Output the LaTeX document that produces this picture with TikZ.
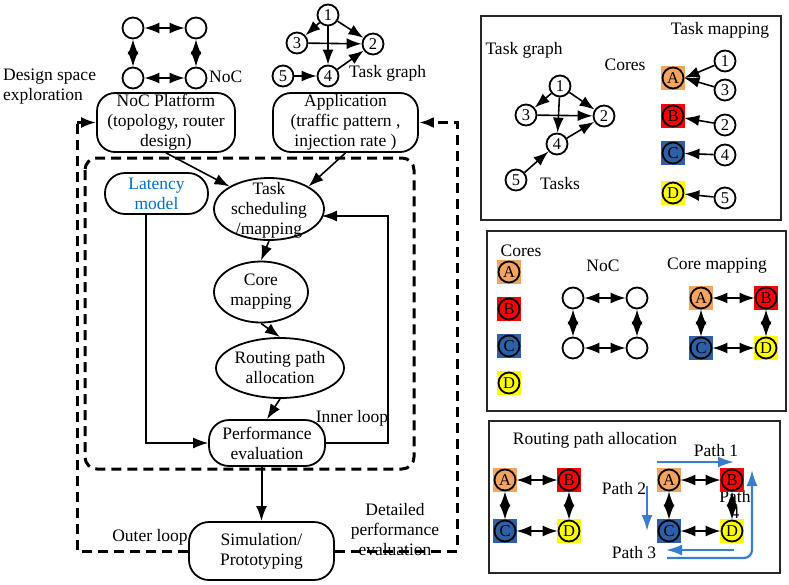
\documentclass[tikz,border=0pt]{standalone}
\usepackage{fontspec}
\setmainfont{Liberation Serif}
\usetikzlibrary{arrows.meta,shapes.geometric}
\definecolor{corA}{RGB}{244,164,96}
\definecolor{corB}{RGB}{255,0,0}
\definecolor{corC}{RGB}{46,96,168}
\definecolor{corD}{RGB}{255,255,0}
\definecolor{pathblue}{RGB}{58,125,205}
\definecolor{latblue}{RGB}{0,112,192}
\newcommand{\mkcore}[4]{\node[sq,fill=#4] (#1s) at #2 {};\node[tc,fill=#4] (#1) at #2 {#3};}
\begin{document}
\begin{tikzpicture}[x=1pt,y=-1pt,
  font=\fontsize{17.5}{20}\selectfont,
  tc/.style={circle,draw,line width=1.8pt,minimum size=21pt,inner sep=0pt,font=\fontsize{16.5}{16}\selectfont},
  sq/.style={rectangle,minimum size=24pt,inner sep=0pt},
  conn/.style={line width=1.6pt},
  arr/.style={-{Latex[length=15pt,width=11pt]}},
  darr/.style={{Latex[length=15pt,width=11pt]}-{Latex[length=15pt,width=11pt]}},
  rbox/.style={draw,rounded corners=18pt,line width=1.8pt,inner sep=0pt,align=center},
  ell/.style={draw,ellipse,line width=1.8pt,inner sep=0pt},
  lbl/.style={align=center,inner sep=0pt},
  bigdash/.style={line width=3pt,dash pattern=on 10pt off 6pt},
  bluearr/.style={draw=pathblue,line width=2.2pt,-{Latex[length=16pt,width=11pt]},color=pathblue},
  frame/.style={line width=1.4pt,draw=black!85}
]
\useasboundingbox (0,0) rectangle (789,584);

% ---------------- top NoC
\node[tc] (n1) at (133,28) {};
\node[tc] (n2) at (196,28) {};
\node[tc] (n3) at (133,78) {};
\node[tc] (n4) at (196,78) {};
\draw[conn,darr] (n1) -- (n2);
\draw[conn,darr] (n3) -- (n4);
\draw[conn,darr] (n1) -- (n3);
\draw[conn,darr] (n2) -- (n4);
\node[lbl,anchor=west] (noclbl) at (209,77) {NoC};

% ---------------- top task graph
\node[tc] (t1) at (328,15) {1};
\node[tc] (t3) at (297,43) {3};
\node[tc] (t2) at (373,44) {2};
\node[tc] (t4) at (328,76) {4};
\node[tc] (t5) at (283,76) {5};
\draw[conn,arr] (t1) -- (t3);
\draw[conn,arr] (t1) -- (t2);
\draw[conn,arr] (t1) -- (t4);
\draw[conn,arr] (t3) -- (t2);
\draw[conn,arr] (t5) -- (t4);
\draw[conn,arr] (t4) -- (t2);
\node[lbl,anchor=west] (tglbl) at (349,73) {Task graph};

\node[lbl,align=left,anchor=west] (dse) at (3,87) {Design space\\exploration};

% ---------------- boxes
\node[rbox,minimum width=138pt,minimum height=59pt] (noc) at (166,122.5) {NoC Platform\\(topology, router\\design)};
\node[rbox,minimum width=145pt,minimum height=59pt] (app) at (345.5,122.5) {Application\\(traffic pattern ,\\injection rate )};

\draw[bigdash,rounded corners=12pt] (85,158) rectangle (414,469);

\node[rbox,rounded corners=20pt,minimum width=103pt,minimum height=41pt,text=latblue] (lat) at (156.5,193.5) {Latency\\model};

\node[ell,minimum width=110pt,minimum height=62pt] (ts) at (269,209) {};
\node[lbl] (tstxt) at (269,210) {Task\\scheduling\\/mapping};
\node[ell,minimum width=94pt,minimum height=61pt] (cm) at (261,292) {};
\node[lbl] (cmtxt) at (261,292) {Core\\mapping};
\node[ell,minimum width=128pt,minimum height=60pt] (rp) at (280,368) {};
\node[lbl] (rptxt) at (280,368) {Routing path\\allocation};
\node[rbox,rounded corners=20pt,minimum width=116pt,minimum height=46pt] (pe) at (267,443) {Performance\\evaluation};
\node[rbox,rounded corners=20pt,minimum width=145pt,minimum height=58pt] (sim) at (261.5,551) {Simulation/\\Prototyping};

% arrows
\draw[conn,arr] (noc.south) -- (ts.north west);
\draw[conn,arr] (app.south) -- (ts.north east);
\draw[conn,arr] (ts.south) -- (cm.north);
\draw[conn,arr] (cm.south) -- (rp.north);
\draw[conn,arr] (rp.south) -- (pe.north);
\coordinate (latb) at (146,214);
\draw[line width=1.2pt,arr] (latb) |- (pe.west);
\coordinate (il1) at (388,443);
\coordinate (il2) at (388,216);
\coordinate (tsin) at (322,216);
\draw[line width=1.2pt,arr] (pe.east) -- (il1) -- (il2) -- (tsin);
\draw[line width=2pt,arr] (pe.south -| sim.north) -- (sim.north);

\node[lbl] (inner) at (352,418) {Inner loop};
\node[lbl] (outer) at (150,537) {Outer loop};
\node[lbl] (detail) at (395,530) {Detailed\\performance\\evaluation};

% outer loop
\coordinate (ol1) at (77,551);
\coordinate (ol2) at (77,122.5);
\coordinate (or1) at (457,551);
\coordinate (or2) at (457,122.5);
\draw[bigdash] (sim.west) -- (ol1) -- (ol2);
\draw[line width=2.6pt,arr] (ol2) -- (noc.west);
\draw[bigdash,arr] (sim.east) -- (or1) -- (or2) -- (app.east);

% ---------------- panel 1
\draw[frame] (481,16) rectangle (781,220);
\node[lbl] (p1title) at (720,30) {Task mapping};
\node[lbl] (p1tg) at (524,50) {Task graph};
\node[lbl] (p1cores) at (625,65) {Cores};
\node[lbl] (p1tasks) at (560,184) {Tasks};
\node[tc] (a1) at (560,86) {1};
\node[tc] (a3) at (526,115) {3};
\node[tc] (a2) at (604,116) {2};
\node[tc] (a4) at (557,144) {4};
\node[tc] (a5) at (516,180) {5};
\draw[conn,arr] (a1) -- (a3);
\draw[conn,arr] (a1) -- (a2);
\draw[conn,arr] (a1) -- (a4);
\draw[conn,arr] (a3) -- (a2);
\draw[conn,arr] (a5) -- (a4);
\draw[conn,arr] (a4) -- (a2);
\mkcore{kA}{(673,78)}{A}{corA}
\mkcore{kB}{(673,116)}{B}{corB}
\mkcore{kC}{(673,153)}{C}{corC}
\mkcore{kD}{(673,193)}{D}{corD}
\node[tc] (q1) at (725,61) {1};
\node[tc] (q3) at (725,90) {3};
\node[tc] (q2) at (725,125) {2};
\node[tc] (q4) at (725,155) {4};
\node[tc] (q5) at (725,198) {5};
\draw[conn,arr] (q1) -- (kA.east);
\draw[conn,arr] (q3) -- (kA.east);
\draw[conn,arr] (q2) -- (kB);
\draw[conn,arr] (q4) -- (kC);
\draw[conn,arr] (q5) -- (kD);

% ---------------- panel 2
\draw[frame] (487,231) rectangle (786,411);
\node[lbl] (p2cores) at (521,251) {Cores};
\mkcore{cA}{(509,272)}{A}{corA}
\mkcore{cB}{(509,309)}{B}{corB}
\mkcore{cC}{(509,346)}{C}{corC}
\mkcore{cD}{(509,383)}{D}{corD}
\node[lbl] (p2noc) at (603,266) {NoC};
\node[tc] (m1) at (573,298) {};
\node[tc] (m2) at (637,298) {};
\node[tc] (m3) at (573,348) {};
\node[tc] (m4) at (637,348) {};
\draw[conn,darr] (m1) -- (m2);
\draw[conn,darr] (m3) -- (m4);
\draw[conn,darr] (m1) -- (m3);
\draw[conn,darr] (m2) -- (m4);
\node[lbl] (p2cm) at (717,266) {Core mapping};
\mkcore{dA}{(701,298)}{A}{corA}
\mkcore{dB}{(766,298)}{B}{corB}
\mkcore{dC}{(701,348)}{C}{corC}
\mkcore{dD}{(766,348)}{D}{corD}
\draw[conn,darr] (dA) -- (dB);
\draw[conn,darr] (dC) -- (dD);
\draw[conn,darr] (dA) -- (dC);
\draw[conn,darr] (dB) -- (dD);

% ---------------- panel 3
\draw[frame] (489,421) rectangle (780,573);
\node[lbl] (p3title) at (595,440) {Routing path allocation};
\mkcore{eA}{(505,480)}{A}{corA}
\mkcore{eB}{(569,480)}{B}{corB}
\mkcore{eC}{(505,531)}{C}{corC}
\mkcore{eD}{(569,531)}{D}{corD}
\draw[conn,darr] (eA) -- (eB);
\draw[conn,darr] (eC) -- (eD);
\draw[conn,darr] (eA) -- (eC);
\draw[conn,darr] (eB) -- (eD);
\node[lbl,font=\fontsize{17.5}{16}\selectfont] (path4) at (735,504) {Path\\4};
\mkcore{fA}{(669,480)}{A}{corA}
\mkcore{fB}{(732,480)}{B}{corB}
\mkcore{fC}{(669,531)}{C}{corC}
\mkcore{fD}{(732,531)}{D}{corD}
\draw[conn,darr] (fA) -- (fB);
\draw[conn,darr] (fC) -- (fD);
\draw[conn,darr] (fA) -- (fC);
\draw[conn,darr] (fB) -- (fD);
\node[lbl] (path1) at (716,451) {Path 1};
\node[lbl] (path2) at (624,489) {Path 2};
\node[lbl] (path3) at (634,553) {Path 3};
\coordinate (b1s) at (657,462);
\coordinate (b1e) at (734,462);
\coordinate (b2s) at (647,486);
\coordinate (b2e) at (647,531);
\coordinate (b3s) at (734,550);
\coordinate (b3e) at (666,550);
\coordinate (b4s) at (667,558);
\coordinate (b4m) at (752,558);
\coordinate (b4e) at (752,470);
\draw[bluearr] (b1s) -- (b1e);
\draw[bluearr] (b2s) -- (b2e);
\draw[bluearr] (b3s) -- (b3e);
\draw[bluearr,rounded corners=8pt] (b4s) -- (b4m) -- (b4e);
\end{tikzpicture}
\end{document}
